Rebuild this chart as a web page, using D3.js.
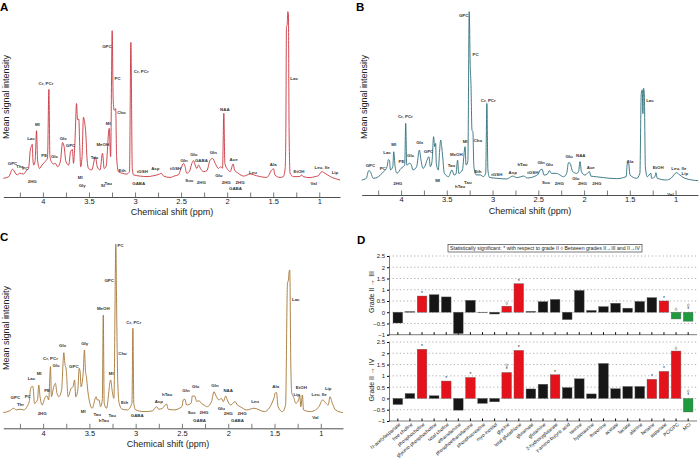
<!DOCTYPE html>
<html>
<head>
<meta charset="utf-8">
<script src="https://cdn.jsdelivr.net/npm/d3@7"></script>
<style>
  body { margin: 0; background: #fff; }
  svg { display: block; font-family: "Liberation Sans", Arial, sans-serif; }
</style>
</head>
<body>
<svg id="fig" width="699" height="461"></svg>
<script>
// spectra: [ppm, mean intensity]
var specA = [
	[4.43,2],[4.37,3],[4.33,7.3],[4.28,4],[4.25,5],[4.21,4.5],[4.18,6.5],[4.155,8],[4.137,18.6],[4.127,20.6],[4.116,22],[4.108,12.7],[4.10,9.8],[4.085,12],[4.069,30],[4.058,12.7],[4.036,7.8],[4.01,9.8],[3.986,11.2],[3.965,12.5],[3.95,14],[3.935,54.3],[3.924,14.7],[3.90,11],[3.884,10.4],[3.866,10.8],[3.84,8.8],[3.81,12],[3.787,23],[3.77,20.6],[3.75,11.8],[3.72,9.8],[3.70,17.6],[3.68,19],[3.668,10.8],[3.653,22.5],[3.635,46],[3.624,36.5],[3.61,36.7],[3.60,20.6],[3.59,8.8],[3.575,14.7],[3.56,38],[3.55,36],[3.533,27],[3.52,12.7],[3.505,7.8],[3.47,6.9],[3.43,14.7],[3.41,8.8],[3.38,6.9],[3.353,16.7],[3.335,7.8],[3.315,8.8],[3.28,31.4],[3.265,14.7],[3.248,88.8],[3.237,48],[3.226,42],[3.21,43],[3.20,14.7],[3.18,5.9],[3.14,5],[3.09,4.5],[3.06,6],[3.045,82],[3.03,7.8],[3.016,4],[2.944,3.3],[2.87,3],[2.80,3.5],[2.734,4.5],[2.716,5],[2.69,3.3],[2.62,2.5],[2.565,3.5],[2.53,4],[2.50,7.8],[2.474,10.8],[2.456,8.8],[2.44,5],[2.41,6],[2.383,10.8],[2.365,12.4],[2.347,9.8],[2.33,7.8],[2.31,9.8],[2.29,7.8],[2.257,5.9],[2.22,6.5],[2.185,12.7],[2.156,13.7],[2.13,10.8],[2.094,7.8],[2.07,8.8],[2.05,8],[2.036,40.2],[2.025,10.8],[1.99,6.9],[1.967,5.9],[1.935,10.4],[1.92,6.9],[1.88,5],[1.82,3.3],[1.75,4.5],[1.68,3.5],[1.57,2.5],[1.515,6.9],[1.497,7.6],[1.48,3.9],[1.425,2.5],[1.39,3],[1.37,8],[1.363,28.4],[1.356,91],[1.349,92],[1.342,100],[1.335,99],[1.328,32],[1.317,5],[1.28,3],[1.21,3],[1.193,4],[1.175,3],[1.10,2.4],[1.045,3],[1.01,3.5],[0.973,5.9],[0.937,4.9],[0.88,3],[0.775,1]
];
var specB = [
	[4.43,1],[4.38,2],[4.353,6.5],[4.335,5.9],[4.305,2],[4.26,2.5],[4.225,4],[4.19,5.9],[4.153,8.8],[4.138,13],[4.127,12.7],[4.116,6.9],[4.09,9],[4.08,17.6],[4.065,8.8],[4.044,5],[4.0,7.8],[3.978,8.8],[3.96,9.8],[3.949,34.3],[3.938,9.8],[3.905,10.8],[3.887,9.8],[3.87,6.9],[3.83,8.8],[3.80,18.6],[3.782,12.7],[3.76,7.8],[3.74,9],[3.716,12.7],[3.695,14.7],[3.68,8.8],[3.662,11.8],[3.644,26.5],[3.633,20.6],[3.622,22.5],[3.615,10.8],[3.593,6.9],[3.578,18.6],[3.567,24.5],[3.556,20.6],[3.545,14.7],[3.527,4.9],[3.48,3],[3.444,6.9],[3.42,3.9],[3.40,4.5],[3.382,12.7],[3.37,4.9],[3.33,6.9],[3.30,20.6],[3.29,9.8],[3.27,12],[3.255,100],[3.244,67.6],[3.236,57.8],[3.225,30.4],[3.215,29.4],[3.204,8.8],[3.178,4],[3.135,4],[3.10,3],[3.075,5],[3.062,46],[3.051,6.9],[3.033,2.5],[2.953,2],[2.844,1.6],[2.78,3.3],[2.735,2.4],[2.66,3.3],[2.62,2.2],[2.535,3.3],[2.50,4.5],[2.48,6.9],[2.458,7.3],[2.438,3.9],[2.40,4.5],[2.38,6.5],[2.356,4.9],[2.30,4.9],[2.262,3.9],[2.225,2.9],[2.19,5],[2.17,11.2],[2.153,10.8],[2.124,5.9],[2.08,4.9],[2.06,6],[2.044,11.8],[2.029,5.9],[1.99,3.9],[1.94,5.9],[1.927,3.3],[1.862,2.9],[1.79,2.4],[1.644,1.8],[1.54,3],[1.527,10.8],[1.513,10.8],[1.498,3.9],[1.425,2],[1.39,5],[1.375,52],[1.364,54],[1.357,40],[1.35,55],[1.342,52],[1.33,8.8],[1.309,2.9],[1.27,5],[1.262,2],[1.225,3],[1.215,5.3],[1.2,2],[1.1,1],[1.05,2],[0.99,5.3],[0.953,3.9],[0.898,2],[0.753,0.6]
];
var specC = [
	[4.43,0.4],[4.36,1.5],[4.317,3],[4.29,2],[4.25,2.4],[4.21,2],[4.17,4.3],[4.15,6.9],[4.137,14],[4.126,15.7],[4.115,16],[4.105,13.8],[4.094,5.9],[4.06,8],[4.047,16.7],[4.033,9.8],[4.01,4.9],[3.975,9.8],[3.957,10.2],[3.94,7.9],[3.92,27.6],[3.91,9.8],[3.885,15.7],[3.867,17.7],[3.85,11.8],[3.83,9.8],[3.80,14],[3.776,35.8],[3.765,29.5],[3.75,25.6],[3.73,9.8],[3.697,14.8],[3.676,15.7],[3.66,19.7],[3.647,9.8],[3.625,13.8],[3.61,26.6],[3.60,24.6],[3.59,15.7],[3.567,23.6],[3.553,37.4],[3.543,25.6],[3.532,21.6],[3.518,13.8],[3.502,7.9],[3.47,3],[3.427,9.8],[3.416,7.9],[3.395,7.9],[3.38,3.9],[3.36,8],[3.35,58],[3.34,5.9],[3.315,3],[3.27,19.7],[3.255,13.8],[3.235,8.8],[3.214,100],[3.207,69],[3.2,38.4],[3.193,17.7],[3.178,5.9],[3.145,2.4],[3.09,2],[3.04,6],[3.03,50.2],[3.02,5.9],[3.0,2],[2.91,1],[2.82,1.4],[2.774,3.9],[2.75,2.4],[2.71,3],[2.666,5.5],[2.648,2.4],[2.585,2],[2.50,4],[2.486,7.9],[2.468,8.3],[2.45,4.9],[2.40,6],[2.388,10.2],[2.363,10.2],[2.34,6.9],[2.316,7.5],[2.298,6.3],[2.262,4.9],[2.226,3.9],[2.18,7],[2.154,12.8],[2.136,10.8],[2.10,7.9],[2.074,8.8],[2.053,6.9],[2.027,10.2],[2.01,7.9],[1.973,4.9],[1.927,6.9],[1.90,4.9],[1.87,3.9],[1.80,2],[1.72,3],[1.61,1],[1.50,10],[1.497,11.8],[1.479,12.2],[1.461,3.9],[1.414,1],[1.38,5],[1.36,76.8],[1.35,78.7],[1.342,83.7],[1.335,84.6],[1.324,29.5],[1.313,11.8],[1.295,9.8],[1.27,5.9],[1.24,7.9],[1.227,10.8],[1.216,3.9],[1.198,10.8],[1.187,2],[1.11,1],[1.058,2],[1.02,3.9],[0.98,7.9],[0.944,5.9],[0.92,4.9],[0.9,9.8],[0.875,5.9],[0.84,2],[0.76,0.4]
];

// peak assignments: [name, ppm, intensity at which the name sits]
var labelsA = [
	['GPC',4.33,10.8],['Thr',4.25,8.8],['PC',4.19,8],['Lac',4.13,25.5],['MI',4.06,33.7],['PE',3.985,15.5],['Glc',3.875,15],['Cr, PCr',3.967,57.6],['Glx',3.78,25.3],['GPC',3.70,21.4],['2HG',4.116,0],['MI',3.595,2.5],['Gly',3.573,-2],['Tau',3.44,14],['MeOH',3.35,22],['MI',3.29,34.3],['GPC',3.305,79.4],['PC',3.19,60.6],['Cho',3.147,40.6],['Cr, PCr',2.933,64.7],['Eth',3.14,6.9],['SI',3.35,-2.2],['Tau',3.29,-1],['tGSH',2.92,6.3],['GABA',2.96,-1],['Asp',2.78,7.8],['tGSH',2.56,7.6],['Gln',2.467,12.7],['Suc',2.41,1],['Glu',2.362,16],['GABA',2.28,12.7],['2HG',2.28,-0.6],['Gln',2.15,17],['Glu',2.09,3.5],['NAA',2.025,42.5],['2HG',2.01,-0.6],['Ace',1.93,13],['GABA',1.91,-4],['2HG',1.86,-0.6],['Leu',1.72,5.5],['Ala',1.50,10],['Lac',1.273,61],['EtOH',1.22,6],['Val',1.06,-1.2],['Leu, Ile',0.97,8.2],['Lip',0.83,5.5]
];
var labelsB = [
	['GPC',4.335,9.4],['PC',4.2,7.8],['Lac',4.153,17.3],['MI',4.08,22],['PE',3.996,12.2],['Glc',3.895,15.3],['Cr, PCr',3.953,38.2],['Glx',3.796,23.1],['GPC',3.70,17.5],['2HG',4.036,-1],['MI',3.60,0.6],['Tau',3.45,9.4],['hTau',3.355,-2.8],['Tau',3.27,-0.4],['MeOH',3.396,16.3],['MI',3.30,23.5],['GPC',3.316,98],['PC',3.185,75],['Cho',3.16,24.5],['Eth',3.16,6],['Cr, PCr',3.047,48],['tGSH',2.953,4.5],['Asp',2.78,5.3],['hTau',2.673,10.2],['tGSH',2.56,5.3],['Gln',2.47,11.4],['Suc',2.415,-0.6],['Glu',2.38,10.2],['2HG',2.27,-1],['Glu',2.164,14.7],['Glu',2.09,2],['NAA',2.036,15.5],['2HG',2.018,-1],['Ace',1.927,8.2],['2HG',1.86,-1],['Ala',1.498,12.2],['Lac',1.28,48],['EtOH',1.19,8.4],['Val',1.055,-7.3],['Leu, Ile',0.964,7.8],['Lip',0.898,4.9]
];
var labelsC = [
	['GPC',4.30,9.3],['Thr',4.245,5.3],['PC',4.166,9.8],['Lac',4.126,20.3],['MI',4.043,23.6],['PE',3.957,13.4],['2HG',4.01,0],['Cr, PCr',3.92,32.5],['Glc',3.86,28.5],['Glx',3.79,39.8],['GPC',3.668,27.6],['Gly',3.55,41],['MI',3.567,0.8],['Tau',3.416,-0.6],['hTau',3.344,-4.3],['Tau',3.254,-1.2],['MeOH',3.35,61.8],['MI',3.264,23.6],['GPC',3.286,78.7],['PC',3.163,99.4],['Cho',3.142,35.4],['Eth',3.12,6.3],['Cr, PCr',3.02,53.5],['GABA',2.983,-1.4],['Asp',2.75,6.9],['hTau',2.66,11.2],['Gln',2.457,13.4],['Glu',2.352,15.7],['Suc',2.395,0.4],['GABA',2.31,-4.3],['2HG',2.262,0.4],['Gln',2.143,16.7],['Glu',2.074,2.6],['NAA',2.0,13.4],['2HG',2.0,0],['GABA',1.9,-4.5],['2HG',1.85,0],['Leu',1.71,6.9],['Ala',1.487,15.7],['Lac',1.27,67],['Lip',1.26,11.2],['EtOH',1.21,15.2],['Val',1.058,-2.6],['Leu, Ile',1.018,11.2],['Lip',0.92,14.8]
];

var ppmTicks = [4.25, 4, 3.75, 3.5, 3.25, 3, 2.75, 2.5, 2.25, 2, 1.75, 1.5, 1.25, 1];

// panel D
var metabolites = ['N-acetylaspartate','free choline','phosphocholine','glycero-phosphocholine','total choline','ethanolamine','phosphoethanolamine','phosphocreatine','myo-inositol','glycine','total glutathione','glutamate','glutamine','2-hydroxyglutarate','γ-amino-butyric acid','taurine','hypotaurine','threonine','acetate','lactate','alanine','betaine','aspartate','PC/GPC','MCI'];
var gradeIII = [-0.48,0.03,0.72,0.78,0.68,-0.95,0.53,-0.02,-0.08,0.27,1.27,0.04,0.47,0.57,-0.33,0.97,0.08,0.25,0.4,0.18,0.48,0.65,0.5,-0.3,-0.4];
var gradeIV = [-0.27,0.22,2.18,0.12,0.77,-0.52,0.93,-0.22,-0.15,1.15,2.13,0.42,0.63,1.05,0.48,0.87,0.2,1.55,0.43,0.53,0.53,0.85,1.2,2.1,-0.6];
var classIII = ['k','k','r','k','k','k','k','k','k','r','r','k','k','k','k','k','k','k','k','k','k','k','r','g','g'];
var classIV = ['k','k','r','k','r','k','r','k','k','r','r','k','k','r','k','k','k','k','k','k','k','r','r','r','g'];
var marksIII = ['','','*','','','','','','','◊','*','','','','','','','','','','','','*','◊','◊*'];
var marksIV = ['','','*','','*','','*','','','◊*','*','','','*','','','','','','','','*','*','◊','◊*'];
var gradeTicks = [-1, -0.5, 0, 0.5, 1, 1.5, 2, 2.5];

var svg = d3.select( '#fig' );

function drawSpectrum( p ) {
	var g = svg.append( 'g' );
	var x = d3.scaleLinear().domain( p.ppm ).range( p.xr );
	var y = d3.scaleLinear().domain( [ 0, 100 ] ).range( p.yr );

	var axis = d3.axisBottom( x )
		.tickValues( ppmTicks )
		.tickSizeInner( -4.5 )
		.tickSizeOuter( 0 )
		.tickPadding( 2 )
		.tickFormat( function ( d ) { return d % 0.5 === 0 ? d3.format( '~g' )( d ) : ''; } );
	var ax = g.append( 'g' )
		.attr( 'transform', 'translate(0,' + p.axisY + ')' )
		.call( axis );
	ax.select( '.domain' ).attr( 'stroke', '#222' ).attr( 'stroke-width', 0.8 );
	ax.selectAll( '.tick line' ).attr( 'stroke', '#222' ).attr( 'stroke-width', 0.6 );
	ax.selectAll( 'text' ).attr( 'font-size', 7.5 ).attr( 'fill', '#222' ).attr( 'font-family', 'Liberation Sans, Arial, sans-serif' );

	var line = d3.line()
		.x( function ( d ) { return x( d[0] ); } )
		.y( function ( d ) { return y( d[1] ); } )
		.curve( d3.curveMonotoneX );

	g.append( 'path' )
		.datum( p.data )
		.attr( 'd', line )
		.attr( 'fill', 'none' )
		.attr( 'stroke', p.color )
		.attr( 'stroke-width', 0.9 )
		.attr( 'stroke-linejoin', 'round' );

	g.selectAll( 'text.peak' )
		.data( p.labels )
		.enter()
		.append( 'text' )
		.classed( 'peak', true )
		.attr( 'x', function ( d ) { return x( d[1] ); } )
		.attr( 'y', function ( d ) { return y( d[2] ); } )
		.attr( 'dy', '0.35em' )
		.attr( 'text-anchor', 'middle' )
		.attr( 'font-size', 4.4 )
		.attr( 'font-weight', 'bold' )
		.attr( 'fill', '#333' )
		.text( function ( d ) { return d[0]; } );

	g.append( 'text' )
		.attr( 'x', p.xlab[0] ).attr( 'y', p.xlab[1] )
		.attr( 'text-anchor', 'middle' )
		.attr( 'font-size', 9 )
		.attr( 'fill', '#222' )
		.text( 'Chemical shift (ppm)' );

	g.append( 'text' )
		.attr( 'transform', 'translate(' + p.ylab[0] + ',' + p.ylab[1] + ') rotate(-90)' )
		.attr( 'text-anchor', 'middle' )
		.attr( 'dy', '0.35em' )
		.attr( 'font-size', 9 )
		.attr( 'fill', '#222' )
		.text( 'Mean signal intensity' );

	g.append( 'text' )
		.attr( 'x', p.letter[0] ).attr( 'y', p.letter[1] )
		.attr( 'font-size', 11.5 )
		.attr( 'font-weight', 'bold' )
		.text( p.name );
}

drawSpectrum( { name: 'A', data: specA, labels: labelsA, color: '#c9343f',
	ppm: [ 4.43, 0.775 ], xr: [ 3.3, 340 ], yr: [ 181.7, 11.7 ], axisY: 197,
	xlab: [ 172, 215 ], ylab: [ 6, 97 ], letter: [ 0, 10.5 ] } );
drawSpectrum( { name: 'B', data: specB, labels: labelsB, color: '#2c6e7d',
	ppm: [ 4.43, 0.755 ], xr: [ 361.7, 698 ], yr: [ 181.7, 11.7 ], axisY: 195,
	xlab: [ 530, 214 ], ylab: [ 364, 97 ], letter: [ 356, 10.5 ] } );
drawSpectrum( { name: 'C', data: specC, labels: labelsC, color: '#a57634',
	ppm: [ 4.43, 0.76 ], xr: [ 3.3, 343 ], yr: [ 413.3, 244 ], axisY: 428.3,
	xlab: [ 168, 447 ], ylab: [ 6, 328 ], letter: [ 0, 241 ] } );

// ---- panel D ----
var fill = { k: '#161616', r: '#e3121b', g: '#1f9a3e' };
var xb = d3.scaleBand().domain( metabolites ).range( [ 393, 693 ] ).paddingInner( 0.2 ).paddingOuter( 0 );

function drawBars( vals, cls, marks, yr, label, labY ) {
	var g = svg.append( 'g' );
	var y = d3.scaleLinear().domain( [ -1, 2.5 ] ).range( yr );

	g.selectAll( 'line.grid' )
		.data( gradeTicks.slice( 1 ) )
		.enter()
		.append( 'line' )
		.attr( 'x1', 389 ).attr( 'x2', 697 )
		.attr( 'y1', function ( d ) { return y( d ); } )
		.attr( 'y2', function ( d ) { return y( d ); } )
		.attr( 'stroke', '#777' )
		.attr( 'stroke-width', 0.6 )
		.attr( 'stroke-dasharray', '1.2,2.4' );

	var ya = d3.axisLeft( y ).tickValues( gradeTicks ).tickSize( 2 ).tickPadding( 2 ).tickFormat( d3.format( '~g' ) );
	var ax = g.append( 'g' ).attr( 'transform', 'translate(389,0)' ).call( ya );
	ax.select( '.domain' ).attr( 'stroke', '#222' ).attr( 'stroke-width', 0.6 );
	ax.selectAll( 'text' ).attr( 'font-size', 6 ).attr( 'fill', '#222' ).attr( 'font-family', 'Liberation Sans, Arial, sans-serif' );

	var xa = d3.axisBottom( xb ).tickSizeInner( -2.5 ).tickSizeOuter( 0 ).tickFormat( '' );
	var bx = g.append( 'g' ).attr( 'transform', 'translate(0,' + y( -1 ) + ')' ).call( xa );
	bx.select( '.domain' ).attr( 'stroke', '#222' ).attr( 'stroke-width', 0.6 ).attr( 'd', 'M389,0H697' );

	g.selectAll( 'rect.bar' )
		.data( vals )
		.enter()
		.append( 'rect' )
		.attr( 'x', function ( d, i ) { return xb( metabolites[i] ); } )
		.attr( 'width', xb.bandwidth() )
		.attr( 'y', function ( d ) { return y( Math.max( 0, d ) ); } )
		.attr( 'height', function ( d ) { return Math.abs( y( d ) - y( 0 ) ); } )
		.attr( 'fill', function ( d, i ) { return fill[cls[i]]; } )
		.attr( 'stroke', '#666' )
		.attr( 'stroke-width', 0.4 );

	g.selectAll( 'text.mark' )
		.data( vals )
		.enter()
		.append( 'text' )
		.attr( 'x', function ( d, i ) { return xb( metabolites[i] ) + xb.bandwidth() / 2; } )
		.attr( 'y', function ( d ) { return y( Math.max( 0, d ) ) - 1; } )
		.attr( 'text-anchor', 'middle' )
		.attr( 'font-size', 5 )
		.attr( 'fill', '#222' )
		.each( function ( d, i ) {
			var m = marks[i];
			var t = d3.select( this );
			if ( m === '◊*' ) {
				t.append( 'tspan' ).attr( 'x', t.attr( 'x' ) ).attr( 'dy', '-0.9em' ).text( '◊' );
				t.append( 'tspan' ).attr( 'x', t.attr( 'x' ) ).attr( 'dy', '0.9em' ).text( '*' );
			} else {
				t.text( m );
			}
		} );

	g.append( 'text' )
		.attr( 'transform', 'translate(372,' + labY + ') rotate(-90)' )
		.attr( 'text-anchor', 'middle' )
		.attr( 'dy', '0.35em' )
		.attr( 'font-size', 7 )
		.attr( 'fill', '#222' )
		.text( label );
	return y;
}

drawBars( gradeIII, classIII, marksIII, [ 334.7, 256 ], 'Grade II → III', 292 );
var yIV = drawBars( gradeIV, classIV, marksIV, [ 421, 342 ], 'Grade II → IV', 380 );

svg.selectAll( 'text.cat' )
	.data( metabolites )
	.enter()
	.append( 'text' )
	.attr( 'transform', function ( d ) {
		return 'translate(' + ( xb( d ) + xb.bandwidth() / 2 + 3 ) + ',' + ( yIV( -1 ) + 4 ) + ') rotate(-40)';
	} )
	.attr( 'text-anchor', 'end' )
	.attr( 'font-size', 4.8 )
	.attr( 'fill', '#222' )
	.text( function ( d ) { return d; } );

svg.append( 'rect' )
	.attr( 'x', 448 ).attr( 'y', 244.5 ).attr( 'width', 194 ).attr( 'height', 7.5 )
	.attr( 'fill', '#fff' ).attr( 'stroke', '#222' ).attr( 'stroke-width', 0.6 );
svg.append( 'text' )
	.attr( 'x', 450 ).attr( 'y', 250.2 )
	.attr( 'font-size', 5 )
	.attr( 'fill', '#222' )
	.attr( 'textLength', 190 )
	.attr( 'lengthAdjust', 'spacingAndGlyphs' )
	.text( 'Statistically significant: * with respect to grade II   ◊   Between grades II→III and II→IV' );

svg.append( 'text' )
	.attr( 'x', 357 ).attr( 'y', 243.5 )
	.attr( 'font-size', 11.5 )
	.attr( 'font-weight', 'bold' )
	.text( 'D' );
</script>
</body>
</html>
